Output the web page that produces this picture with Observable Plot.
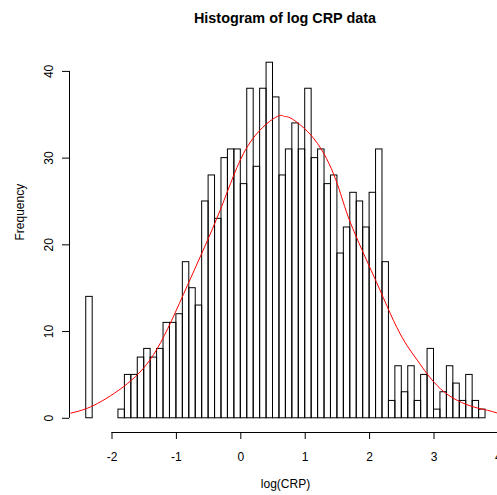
<!DOCTYPE html>
<html><head><meta charset="utf-8">
<script src="https://cdn.jsdelivr.net/npm/d3@7"></script>
<script src="https://cdn.jsdelivr.net/npm/@observablehq/plot@0.6"></script>
<style>
html,body{margin:0;padding:0;background:#fff;overflow:hidden;width:497px;height:495px;}
#title{height:36px;width:570px;position:relative;font:bold 14.4px "Liberation Sans",Arial,sans-serif;color:#000;}
#title span{position:absolute;left:285px;top:18px;transform:translate(-50%,-50%);white-space:nowrap;}
#chart{width:570px;}
#chart svg{display:block;max-width:none !important;width:570px !important;height:459px !important;}
</style></head><body>
<div id="title"><span>Histogram of log CRP data</span></div>
<div id="chart"></div>
<script>
// Histogram bin breaks (log CRP)
const breaks = [-2.4,-2.3,-2.2,-2.1,-2.0,-1.9,-1.8,-1.7,-1.6,-1.5,-1.4,-1.3,-1.2,-1.1,-1.0,-0.9,-0.8,-0.7,-0.6,-0.5,-0.4,-0.3,-0.2,-0.1,0.0,
  0.1,0.2,0.3,0.4,0.5,0.6,0.7,0.8,0.9,1.0,1.1,1.2,1.3,1.4,1.5,1.6,1.7,1.8,1.9,2.0,2.1,2.2,2.3,2.4,2.5,2.6,2.7,2.8,2.9,3.0,
  3.1,3.2,3.3,3.4,3.5,3.6,3.7,3.8];
// Frequency in each bin
const counts = [14,0,0,0,0,1,5,5,7,8,7,8,11,11,12,18,15,13,25,28,23,30,31,31,
  27,38,29,38,41,37,28,31,34,31,38,30,31,27,28,19,22,26,25,22,26,31,18,
  2,6,3,6,2,5,8,1,3,6,4,2,5,2,1];
// Fitted normal curve
const curveX = [-2.64,-2.28,-1.76,-1.30,-0.83,-0.32,0.10,0.54,0.67,0.80,1.19,1.50,1.70,2.07,2.32,2.53,2.74,2.89,3.10,3.36,3.62,3.83,3.98];
const curveY = [0.6,1.5,4.0,8.0,15.3,24.0,31.3,34.7,34.8,34.5,31.7,27.0,22.6,16.3,12.1,9.0,6.7,5.15,3.4,2.07,1.3,0.92,0.61];
const xTicks = [-2,-1,0,1,2,3,4];
const yTicks = [0,10,20,30,40];
const xLabel = "log(CRP)";
const yLabel = "Frequency";

// layout
const xDomain = [-2.66, 4.048];
const yDomain = [-1.64, 42.64];

const bins = counts.map((c, i) => ({x1: breaks[i], x2: breaks[i + 1], y: c}));
const curve = curveX.map((x, i) => ({x, y: curveY[i]}));

const chart = Plot.plot({
  width: 570,
  height: 459,
  marginLeft: 69,
  marginRight: 69,
  marginTop: 12,
  marginBottom: 63,
  style: {fontFamily: "'Liberation Sans', Arial, sans-serif", fontSize: "12px", color: "#000", background: "#fff", overflow: "visible", maxWidth: "none"},
  x: {domain: xDomain},
  y: {domain: yDomain},
  marks: [
    Plot.rectY(bins, {x1: "x1", x2: "x2", y1: 0, y2: "y", fill: "none", stroke: "#000", strokeWidth: 1}),
    Plot.line(curve, {x: "x", y: "y", stroke: "#ff0000", strokeWidth: 1, curve: "natural"}),
    Plot.ruleY([yDomain[0]], {x1: xTicks[0], x2: xTicks[xTicks.length - 1], stroke: "#000"}),
    Plot.ruleX([xDomain[0]], {y1: yTicks[0], y2: yTicks[yTicks.length - 1], stroke: "#000"}),
    Plot.axisX({ticks: xTicks, tickSize: 7, tickPadding: 13, tickFormat: d => String(d), label: null, anchor: "bottom"}),
    Plot.axisY({ticks: yTicks, tickSize: 7, tickPadding: 10, tickRotate: -90, tickFormat: d => String(d), label: null, anchor: "left"}),
    Plot.text([xLabel], {frameAnchor: "bottom", dy: 55, text: d => d, fill: "#000"}),
    Plot.text([yLabel], {frameAnchor: "left", dx: -49, rotate: -90, text: d => d, fill: "#000"})
  ]
});
document.getElementById("chart").appendChild(chart);
</script>
</body></html>
